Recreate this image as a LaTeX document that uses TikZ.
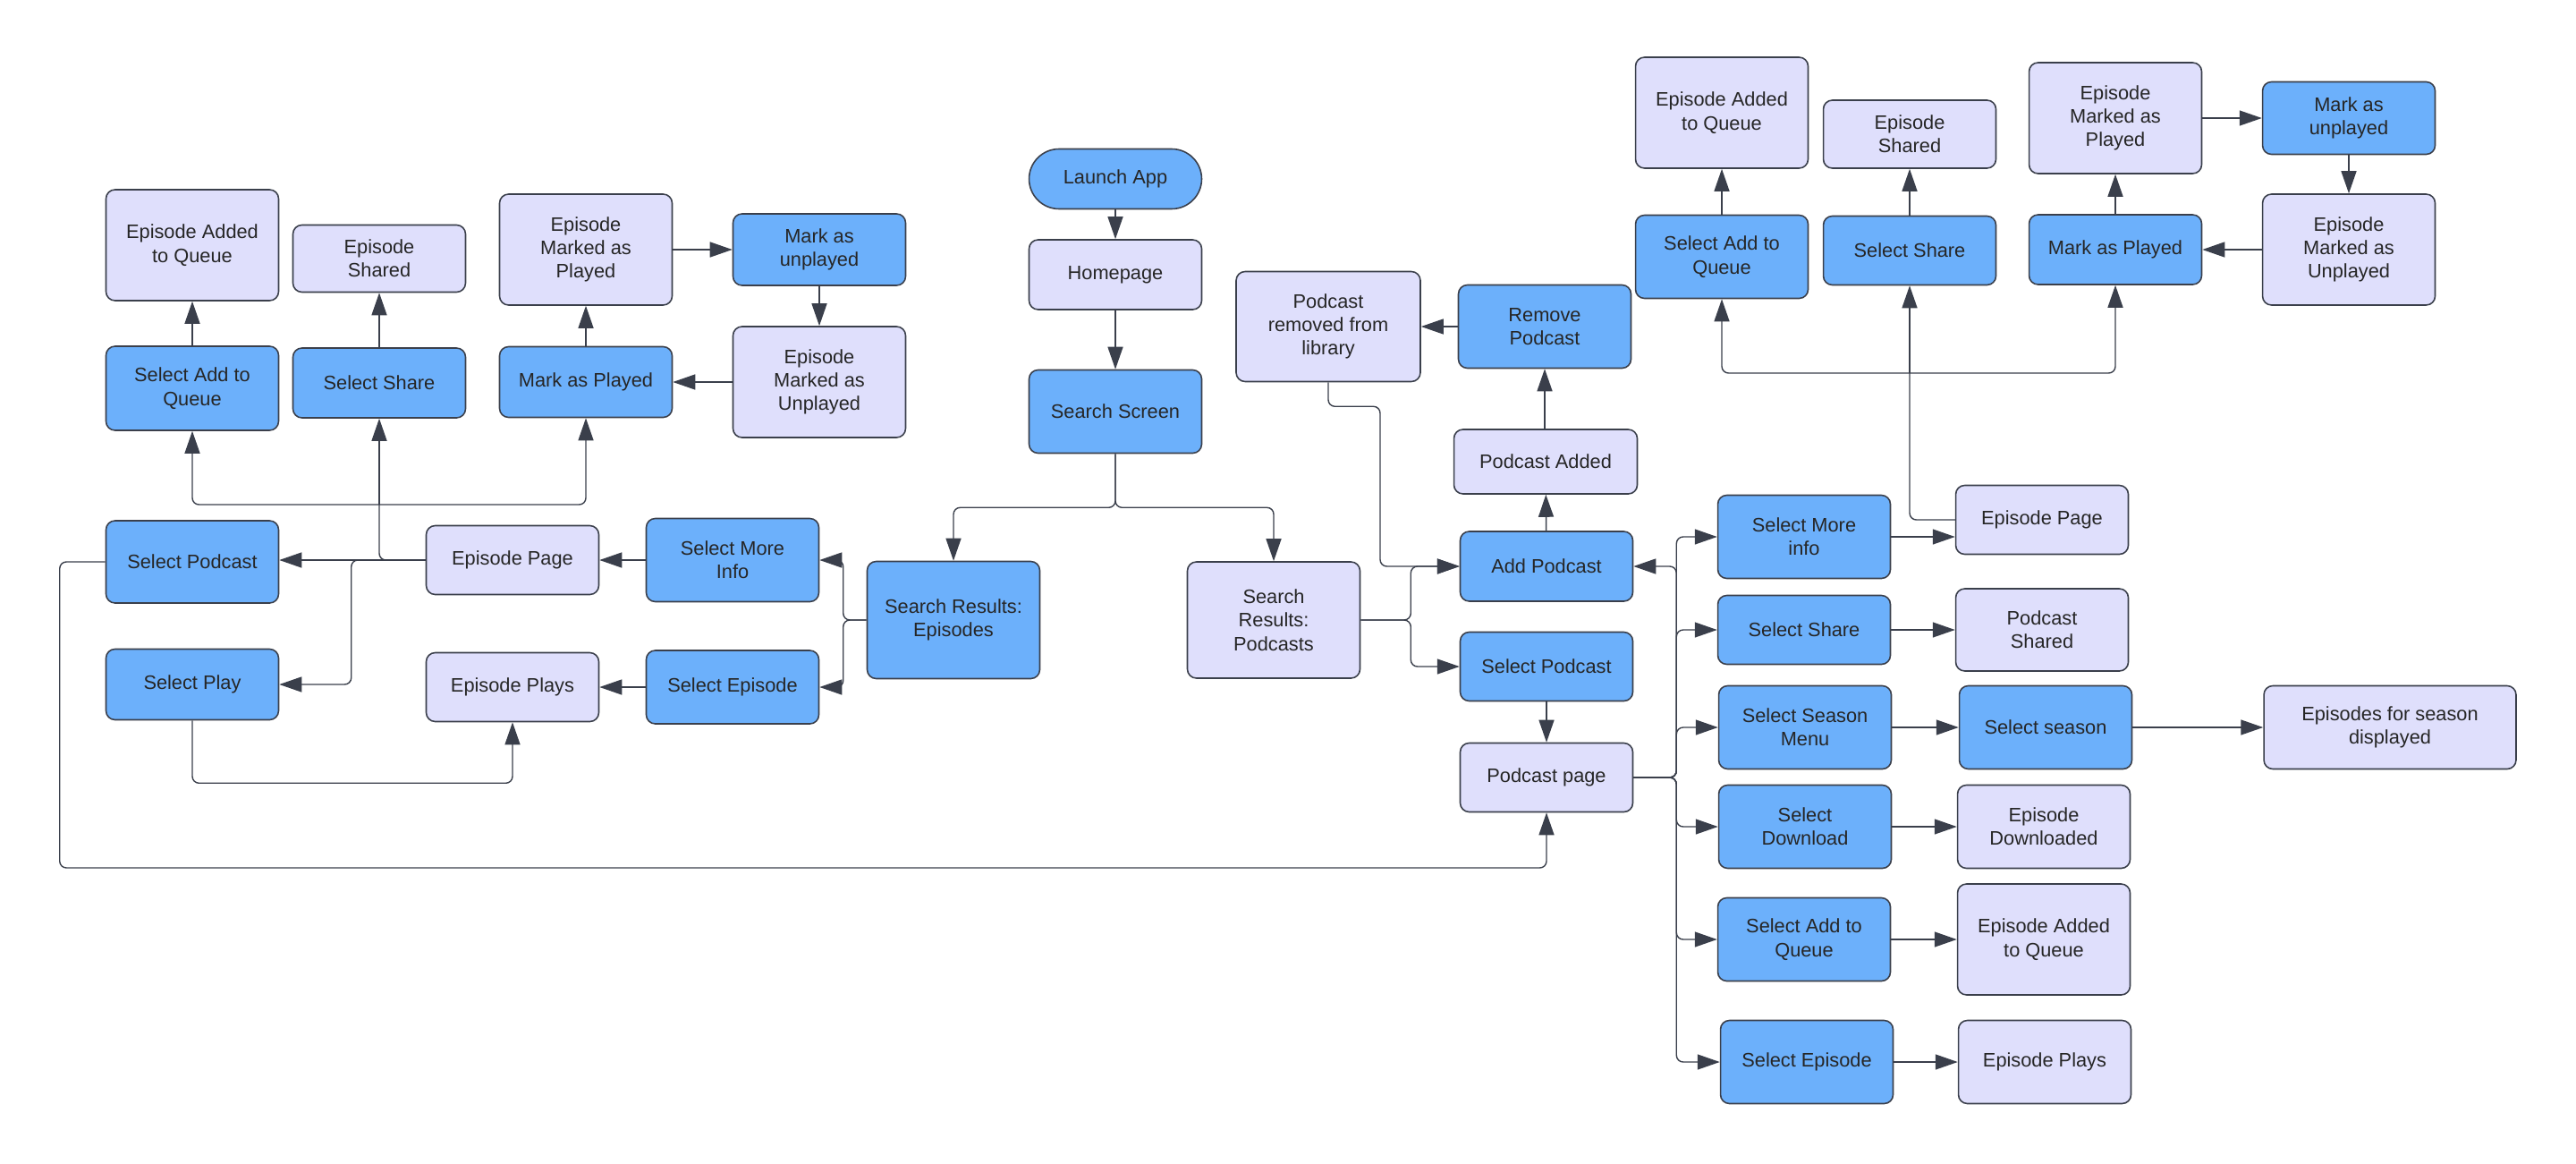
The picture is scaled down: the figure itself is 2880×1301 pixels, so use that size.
\documentclass[tikz,border=0pt]{standalone}
\usepackage{fontspec}
\setmainfont{Liberation Sans}
\usepackage{xcolor}
\usetikzlibrary{arrows.meta, positioning}
\definecolor{boxblue}{HTML}{6CB0FB}
\definecolor{boxlav}{HTML}{DFDFFC}
\definecolor{edgegray}{HTML}{3A3F4B}
\tikzset{
    box/.style={draw=edgegray,line width=0.9pt,rounded corners=0.2cm,minimum width=3.86cm,
        align=center,inner sep=2pt,font=\fontsize{12.4}{15}\selectfont,text=black!85},
    bluebox/.style={box,fill=boxblue},
    lavbox/.style={box,fill=boxlav},
    conn/.style={draw=edgegray,line width=0.8pt,rounded corners=0.15cm},
    arr/.style={conn,-{Triangle[length=0.5cm,width=0.34cm]}},
}
\begin{document}
\begin{tikzpicture}[x=0.02cm,y=-0.02cm]
            \useasboundingbox (0,0) rectangle (2880,1301);
            % left side
            \node[lavbox,minimum height=2.48cm](lq) at (215,274) {Episode Added\\to Queue};
            \node[lavbox,minimum height=1.5cm](lsh) at (424,289) {Episode\\Shared};
            \node[lavbox,minimum height=2.48cm](lmp) at (655,279) {Episode\\Marked as\\Played};
            \node[bluebox,minimum height=1.6cm](lmu) at (916,279) {Mark as\\unplayed};
            \node[bluebox,minimum height=1.88cm](lsq) at (215,434) {Select Add to\\Queue};
            \node[bluebox,minimum height=1.56cm](lss) at (424,428) {Select Share};
            \node[bluebox,minimum height=1.58cm](lmk) at (655,427) {Mark as Played};
            \node[lavbox,minimum height=2.48cm](lun) at (916,427) {Episode\\Marked as\\Unplayed};
            \node[bluebox,minimum height=1.84cm](lsp) at (215,628) {Select Podcast};
            \node[lavbox,minimum height=1.54cm](lep) at (573,626) {Episode Page};
            \node[bluebox,minimum height=1.86cm](lmi) at (819,626) {Select More\\Info};
            \node[bluebox,minimum height=2.62cm](sre) at (1066,693) {Search Results:\\Episodes};
            \node[bluebox,minimum height=1.58cm](lpl) at (215,765) {Select Play};
            \node[lavbox,minimum height=1.54cm](lplays) at (573,768) {Episode Plays};
            \node[bluebox,minimum height=1.64cm](lse) at (819,768) {Select Episode};
            % middle
            \node[bluebox,minimum height=1.34cm,rounded corners=0.67cm](launch) at (1247,200) {Launch App};
            \node[lavbox,minimum height=1.56cm](home) at (1247,307) {Homepage};
            \node[bluebox,minimum height=1.86cm](ss) at (1247,460) {Search Screen};
            \node[lavbox,minimum height=2.46cm,minimum width=4.12cm](prm) at (1485,365) {Podcast\\removed from\\library};
            \node[bluebox,minimum height=1.86cm](rm) at (1727,365) {Remove\\Podcast};
            \node[lavbox,minimum height=1.44cm,minimum width=4.1cm](pa) at (1728,516) {Podcast Added};
            \node[bluebox,minimum height=1.56cm](ap) at (1729,633) {Add Podcast};
            \node[lavbox,minimum height=2.6cm](srp) at (1424,693) {Search\\Results:\\Podcasts};
            \node[bluebox,minimum height=1.54cm](rsp) at (1729,745) {Select Podcast};
            \node[lavbox,minimum height=1.54cm](pp) at (1729,869) {Podcast page};
            % right side, top
            \node[lavbox,minimum height=2.48cm](rq) at (1925,126) {Episode Added\\to Queue};
            \node[lavbox,minimum height=1.52cm](rsh) at (2135,150) {Episode\\Shared};
            \node[lavbox,minimum height=2.48cm](rmp) at (2365,132) {Episode\\Marked as\\Played};
            \node[bluebox,minimum height=1.62cm](rmu) at (2626,132) {Mark as\\unplayed};
            \node[bluebox,minimum height=1.86cm](rsq) at (1925,287) {Select Add to\\Queue};
            \node[bluebox,minimum height=1.54cm](rss) at (2135,280) {Select Share};
            \node[bluebox,minimum height=1.56cm](rmk) at (2365,279) {Mark as Played};
            \node[lavbox,minimum height=2.48cm](run) at (2626,279) {Episode\\Marked as\\Unplayed};
            \node[lavbox,minimum height=1.54cm](rep) at (2283,581) {Episode Page};
            % right side, podcast page options
            \node[bluebox,minimum height=1.86cm](omi) at (2017,600) {Select More\\info};
            \node[bluebox,minimum height=1.54cm](osh) at (2017,704) {Select Share};
            \node[lavbox,minimum height=1.84cm](psh) at (2283,704) {Podcast\\Shared};
            \node[bluebox,minimum height=1.86cm](osm) at (2018,813) {Select Season\\Menu};
            \node[bluebox,minimum height=1.86cm](oss) at (2287,813) {Select season};
            \node[lavbox,minimum height=1.86cm,minimum width=5.64cm](esd) at (2672,813) {Episodes for season\\displayed};
            \node[bluebox,minimum height=1.86cm](odl) at (2018,924) {Select\\Download};
            \node[lavbox,minimum height=1.86cm](edl) at (2285,924) {Episode\\Downloaded};
            \node[bluebox,minimum height=1.86cm](oaq) at (2017,1050) {Select Add to\\Queue};
            \node[lavbox,minimum height=2.48cm](eaq) at (2285,1050) {Episode Added\\to Queue};
            \node[bluebox,minimum height=1.86cm](oep) at (2020,1187) {Select Episode};
            \node[lavbox,minimum height=1.86cm](eps) at (2286,1187) {Episode Plays};
            \coordinate (lbr) at (424,564);
            \coordinate (rbr) at (2135,417);
            % left connectors
            \draw[arr] (lsq) -- (lq);
            \draw[arr] (lss) -- (lsh);
            \draw[arr] (lmk) -- (lmp);
            \draw[arr] (lmp) -- (lmu);
            \draw[arr] (lmu) -- (lun);
            \draw[arr] (lun) -- (lmk);
            \draw[arr] (lmi) -- (lep);
            \draw[arr] (lse) -- (lplays);
            \draw[arr] (lep.west) -- (lep.west -| lsp.east);
            \draw[conn] (lep.west) -| (lbr);
            \draw[arr] (lbr) -- (lss.south);
            \draw[arr] (lbr) -| (lsq.south);
            \draw[arr] (lbr) -| (lmk.south);
            \draw[arr] (lep.west) -- ++(-83,0) |- (lpl.east);
            \draw[arr] (lpl.south) -- ++(0,70) -| (lplays.south);
            \draw[arr] (lsp.west) -- ++(-51,0) -- ++(0,342) -| (pp.south);
            \draw[arr] (sre.west) -- ++(-26,0) |- (lmi.east);
            \draw[arr] (sre.west) -- ++(-26,0) |- (lse.east);
            % middle connectors
            \draw[arr] (launch) -- (home);
            \draw[arr] (home) -- (ss);
            \draw[arr] (ss.south) -- ++(0,60) -| (sre.north);
            \draw[arr] (ss.south) -- ++(0,60) -| (srp.north);
            \draw[arr] (srp.east) -- ++(56,0) |- (ap.west);
            \draw[arr] (srp.east) -- ++(56,0) |- (rsp.west);
            \draw[arr] (prm.south) -- ++(0,27) -- ++(58,0) |- (ap.west);
            \draw[arr] (ap) -- (pa);
            \draw[arr] (pa.north -| rm.south) -- (rm.south);
            \draw[arr] (rm) -- (prm);
            \draw[arr] (rsp) -- (pp);
            \draw[arr] (pp.east) -- ++(48,0) |- (ap.east);
            \foreach \n in {omi,osh,osm,odl,oaq,oep}
                \draw[arr] (pp.east) -- ++(48,0) |- (\n.west);
            % right connectors
            \draw[arr] (rsq) -- (rq);
            \draw[arr] (rss) -- (rsh);
            \draw[arr] (rmk) -- (rmp);
            \draw[arr] (rmp) -- (rmu);
            \draw[arr] (rmu) -- (run);
            \draw[arr] (run) -- (rmk);
            \draw[conn] (rep.west) -| (rbr);
            \draw[arr] (rbr) -- (rss.south);
            \draw[arr] (rbr) -| (rsq.south);
            \draw[arr] (rbr) -| (rmk.south);
            \draw[arr] (omi.east) -- (omi.east -| rep.west);
            \draw[arr] (osh) -- (psh);
            \draw[arr] (osm) -- (oss);
            \draw[arr] (oss) -- (esd);
            \draw[arr] (odl) -- (edl);
            \draw[arr] (oaq) -- (eaq);
            \draw[arr] (oep) -- (eps);
        \end{tikzpicture}
\end{document}
